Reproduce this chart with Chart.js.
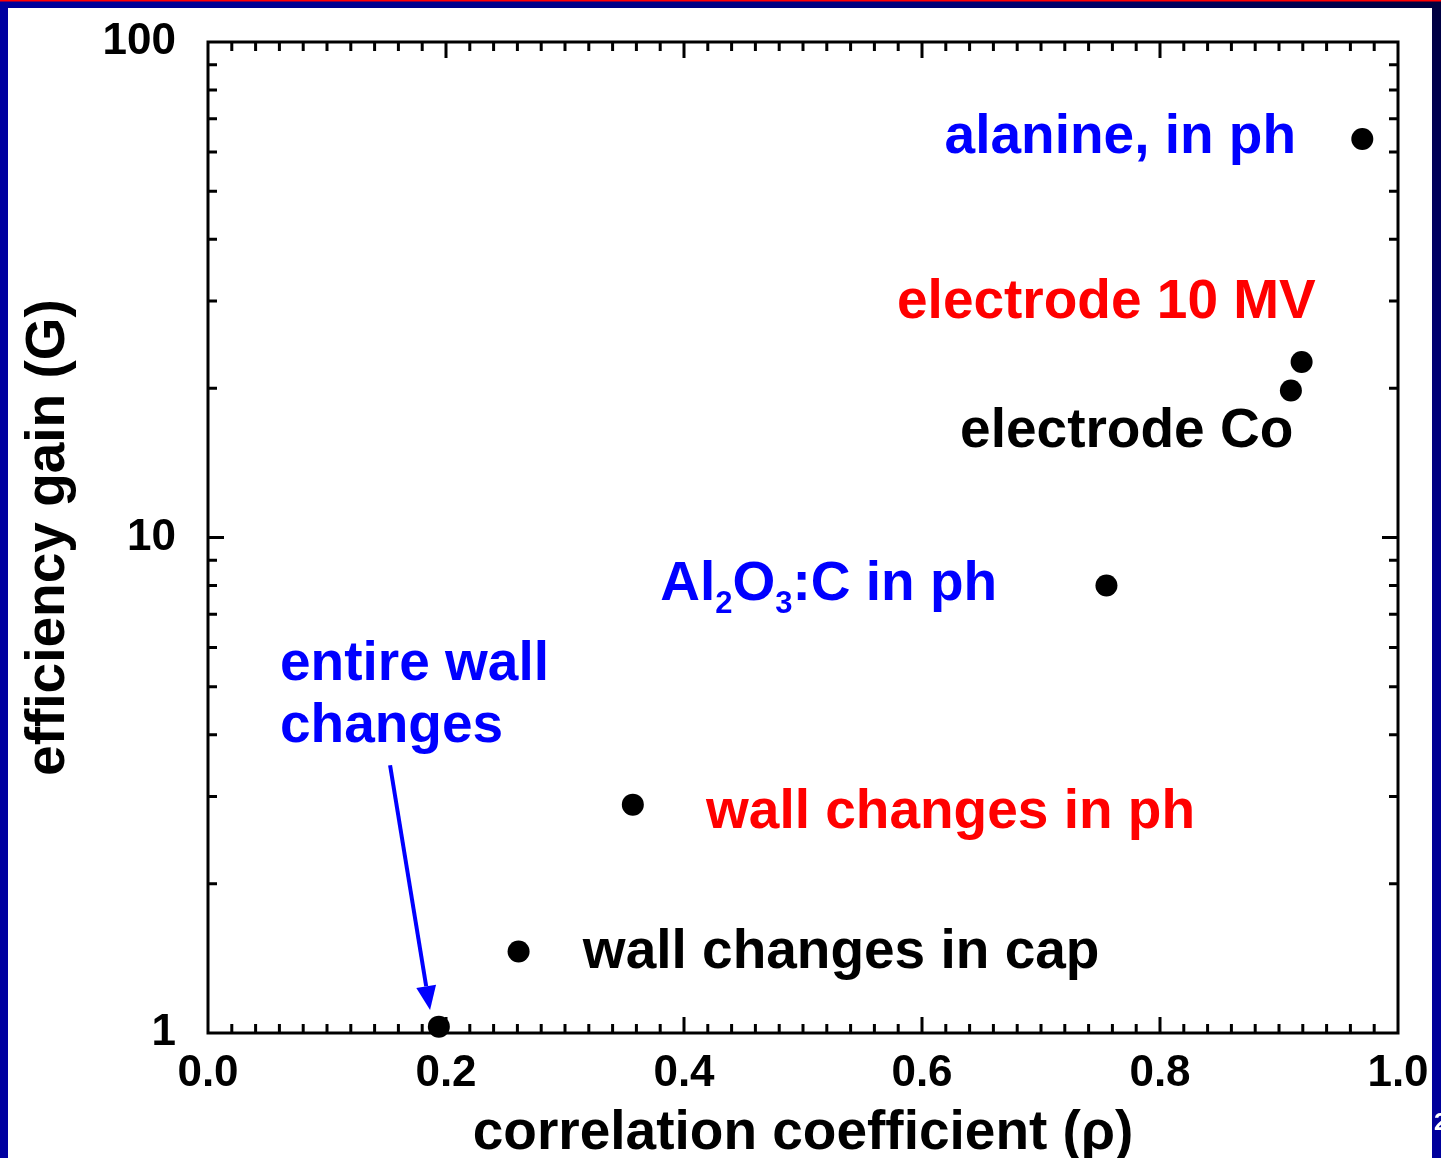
<!DOCTYPE html>
<html>
<head>
<meta charset="utf-8">
<script src="https://cdn.jsdelivr.net/npm/chart.js@4/dist/chart.umd.min.js"></script>
<style>
  body { margin: 0; background: #fff; }
  canvas { display: block; }
</style>
</head>
<body>
<canvas id="gainChart" width="1441" height="1158"></canvas>
<script>
// correlation coefficient (rho) and efficiency gain (G)
const pointNames = ['alanine, in ph', 'electrode 10 MV', 'electrode Co', 'Al2O3:C in ph',
                    'wall changes in ph', 'wall changes in cap', 'entire wall changes'];
const rho  = [0.970, 0.919, 0.910, 0.755, 0.357, 0.261, 0.194];
const gain = [63.7, 22.6, 19.8, 8.0, 2.89, 1.46, 1.03];

const yTickValues = [1, 10, 100];
const xTitle = 'correlation coefficient (ρ)';
const yTitle = 'efficiency gain (G)';

// text notes placed in data units (left edge, baseline)
const notes = [
  { text: 'alanine, in ph',       color: '#0000ff', x: 0.619, y: 59.7 },
  { text: 'electrode 10 MV',      color: '#ff0000', x: 0.579, y: 27.7 },
  { text: 'electrode Co',         color: '#000000', x: 0.632, y: 15.2 },
  { text: 'Al_2O_3:C in ph',      color: '#0000ff', x: 0.380, y: 7.48 },
  { text: 'entire wall\nchanges', color: '#0000ff', x: 0.0605, y: 5.16 },
  { text: 'wall changes in ph',   color: '#ff0000', x: 0.4185, y: 2.59 },
  { text: 'wall changes in cap',  color: '#000000', x: 0.315, y: 1.353 }
];
const arrowFrom = { x: 0.153, y: 3.47 };
const arrowTo   = { x: 0.1866, y: 1.113 };

const FONT = '"Liberation Sans", Arial, sans-serif';

// slide background: white page with the blue frame
const framePlugin = {
  id: 'frame',
  beforeDraw(chart) {
    const ctx = chart.ctx;
    const w = chart.width, h = chart.height;
    ctx.save();
    ctx.fillStyle = '#ffffff';
    ctx.fillRect(0, 0, w, h);
    const top = ctx.createLinearGradient(0, 0, w, 0);
    top.addColorStop(0, '#00009c');
    top.addColorStop(0.6, '#000080');
    top.addColorStop(1, '#000040');
    ctx.fillStyle = top;
    ctx.fillRect(0, 0, w, 8);
    ctx.fillStyle = '#0000a0';
    ctx.fillRect(0, 0, 8, h);
    const right = ctx.createLinearGradient(0, 0, 0, h);
    right.addColorStop(0, '#000040');
    right.addColorStop(0.5, '#000090');
    right.addColorStop(1, '#00009c');
    ctx.fillStyle = right;
    ctx.fillRect(w - 9, 0, 9, h);
    ctx.fillStyle = '#ff0000';
    ctx.fillRect(0, 0, w, 1.5);
    // slide number peeking at the corner
    ctx.fillStyle = '#ffffff';
    ctx.font = 'bold 24px ' + FONT;
    ctx.textBaseline = 'alphabetic';
    ctx.fillText('2', w - 7, 1130);
    ctx.restore();
  }
};

// box around the plot and inward ticks on all four sides
const boxPlugin = {
  id: 'box',
  beforeDatasetsDraw(chart) {
    const { ctx, chartArea: a, scales: { x, y } } = chart;
    ctx.save();
    ctx.strokeStyle = '#000';
    ctx.lineWidth = 3;
    ctx.strokeRect(a.left, a.top, a.right - a.left, a.bottom - a.top);
    ctx.beginPath();
    for (let i = 1; i < 50; i++) {
      const px = x.getPixelForValue(i / 50);
      const len = i % 10 === 0 ? 16 : 9;
      ctx.moveTo(px, a.bottom); ctx.lineTo(px, a.bottom - len);
      ctx.moveTo(px, a.top);    ctx.lineTo(px, a.top + len);
    }
    for (const dec of [1, 10]) {
      for (let m = 1; m <= 9; m++) {
        const v = dec * m;
        if (v === 1) continue;
        const py = y.getPixelForValue(v);
        const len = m === 1 ? 16 : 9;
        ctx.moveTo(a.left, py);  ctx.lineTo(a.left + len, py);
        ctx.moveTo(a.right, py); ctx.lineTo(a.right - len, py);
      }
    }
    ctx.stroke();
    ctx.restore();
  }
};

function drawRich(ctx, line, px, py, color) {
  const parts = line.split(/_(\d)/);
  let cx = px;
  ctx.fillStyle = color;
  parts.forEach((p, i) => {
    if (i % 2 === 1) {
      ctx.font = 'bold 31px ' + FONT;
      ctx.fillText(p, cx, py + 13);
    } else {
      ctx.font = 'bold 55px ' + FONT;
      ctx.fillText(p, cx, py);
    }
    cx += ctx.measureText(p).width;
  });
}

const notePlugin = {
  id: 'notes',
  afterDatasetsDraw(chart) {
    const { ctx, scales: { x, y } } = chart;
    ctx.save();
    ctx.textAlign = 'left';
    ctx.textBaseline = 'alphabetic';
    notes.forEach(n => {
      const px = x.getPixelForValue(n.x);
      const py = y.getPixelForValue(n.y);
      n.text.split('\n').forEach((line, i) => drawRich(ctx, line, px, py + i * 62, n.color));
    });

    // arrow pointing at the "entire wall changes" point
    const x0 = x.getPixelForValue(arrowFrom.x), y0 = y.getPixelForValue(arrowFrom.y);
    const x1 = x.getPixelForValue(arrowTo.x),   y1 = y.getPixelForValue(arrowTo.y);
    const ang = Math.atan2(y1 - y0, x1 - x0);
    const head = 24, half = 10;
    const bx = x1 - head * Math.cos(ang), by = y1 - head * Math.sin(ang);
    ctx.strokeStyle = '#0000ff';
    ctx.fillStyle = '#0000ff';
    ctx.lineWidth = 4;
    ctx.beginPath();
    ctx.moveTo(x0, y0);
    ctx.lineTo(bx, by);
    ctx.stroke();
    ctx.beginPath();
    ctx.moveTo(x1, y1);
    ctx.lineTo(bx + half * Math.sin(ang), by - half * Math.cos(ang));
    ctx.lineTo(bx - half * Math.sin(ang), by + half * Math.cos(ang));
    ctx.closePath();
    ctx.fill();
    ctx.restore();
  }
};

const ctx = document.getElementById('gainChart').getContext('2d');

new Chart(ctx, {
  type: 'scatter',
  data: {
    labels: pointNames,
    datasets: [{
      label: 'efficiency gain',
      data: rho.map((r, i) => ({ x: r, y: gain[i] })),
      backgroundColor: '#000',
      borderWidth: 0,
      pointRadius: 11,
      pointHoverRadius: 11,
      clip: false
    }]
  },
  options: {
    responsive: false,
    animation: false,
    devicePixelRatio: 1,
    layout: { padding: { top: 42, right: 43, left: 0, bottom: 0 } },
    plugins: {
      legend: { display: false },
      tooltip: { enabled: false }
    },
    scales: {
      x: {
        type: 'linear',
        min: 0,
        max: 1,
        afterFit: s => { s.height = 125; s.paddingLeft = 0; s.paddingRight = 0; },
        grid: { display: false, drawTicks: false },
        border: { display: false },
        ticks: {
          stepSize: 0.2,
          padding: 14,
          color: '#000',
          maxRotation: 0,
          font: { family: FONT, size: 44, weight: 'bold' },
          callback: v => Number(v).toFixed(1)
        },
        title: {
          display: true,
          text: xTitle,
          color: '#000',
          font: { family: FONT, size: 55, weight: 'bold', lineHeight: 1 },
          padding: { top: 0, bottom: -3 }
        }
      },
      y: {
        type: 'logarithmic',
        min: 1,
        max: 100,
        afterFit: s => { s.width = 208; s.paddingTop = 0; s.paddingBottom = 0; },
        afterBuildTicks: s => { s.ticks = yTickValues.map(v => ({ value: v })); },
        grid: { display: false, drawTicks: false },
        border: { display: false },
        ticks: {
          padding: 32,
          color: '#000',
          autoSkip: false,
          font: { family: FONT, size: 44, weight: 'bold' },
          callback: v => String(v)
        },
        title: {
          display: true,
          text: yTitle,
          color: '#000',
          font: { family: FONT, size: 55, weight: 'bold', lineHeight: 1 },
          padding: { top: 21, bottom: 0 }
        }
      }
    }
  },
  plugins: [framePlugin, boxPlugin, notePlugin]
});
</script>
</body>
</html>
